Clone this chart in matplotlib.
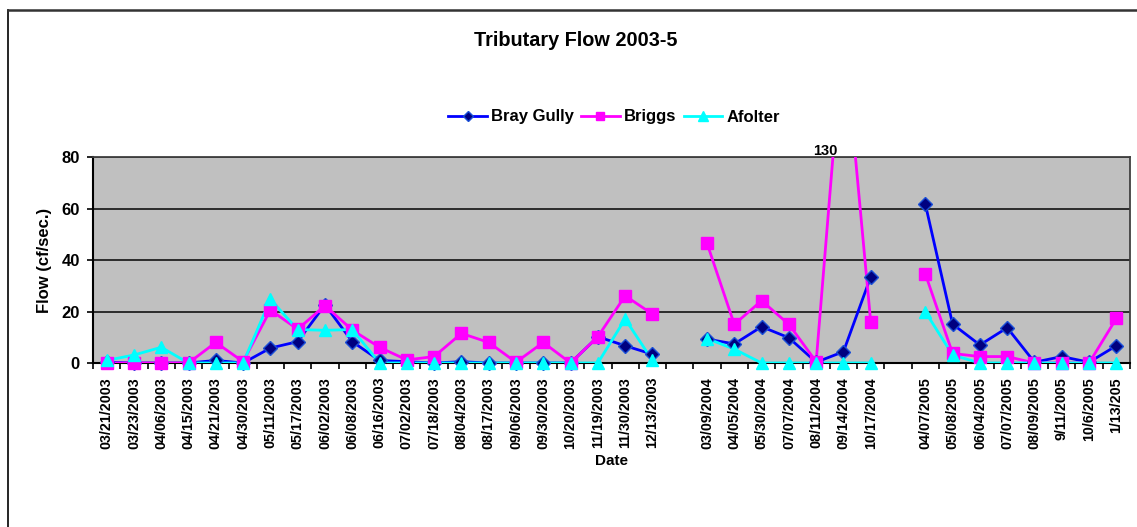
import numpy as np
import matplotlib
matplotlib.use("Agg")
import matplotlib.pyplot as plt
from matplotlib.lines import Line2D

plt.rcParams['font.family'] = ['Liberation Sans', 'DejaVu Sans']
plt.rcParams['font.weight'] = 'bold'

# ---- data ----
dates_2003 = ['03/21/2003', '03/23/2003', '04/06/2003', '04/15/2003', '04/21/2003',
              '04/30/2003', '05/11/2003', '05/17/2003', '06/02/2003', '06/08/2003',
              '06/16/2003', '07/02/2003', '07/18/2003', '08/04/2003', '08/17/2003',
              '09/06/2003', '09/30/2003', '10/20/2003', '11/19/2003', '11/30/2003',
              '12/13/2003']
dates_2004 = ['03/09/2004', '04/05/2004', '05/30/2004', '07/07/2004', '08/11/2004',
              '09/14/2004', '10/17/2004']
dates_2005 = ['04/07/2005', '05/08/2005', '06/04/2005', '07/07/2005', '08/09/2005',
              '9/11/2005', '10/6/2005', '1/13/205']

bray_2003 = [0.3, 0, 0, 0, 1.0, 0, 5.8, 8.3, 22.6, 8.3, 1.0, 0.5, 0, 0.5, 0, 0, 0, 0, 10.2, 6.7, 3.4]
bray_2004 = [9.3, 7.4, 14.1, 9.8, 0.3, 4.4, 33.5]
bray_2005 = [61.7, 15.1, 7.0, 13.7, 0.3, 2.5, 0.3, 6.7]

briggs_2003 = [0, 0, 0, 0, 8.0, 0.5, 20.6, 13.1, 22.3, 12.8, 6.1, 1.2, 2.5, 11.5, 8.0, 0.3, 8.0, 0, 10.2, 26.1, 19.0]
briggs_2004 = [46.5, 15.0, 24.2, 15.0, 0.5, 130, 15.8]
briggs_2005 = [34.6, 3.7, 2.5, 2.5, 0, 0, 0, 17.3]

afolter_2003 = [1.0, 3.1, 6.1, 0, 0, 0, 24.7, 13.0, 12.7, 13.0, 0, 0, 0, 0, 0, 0, 0, 0, 0, 17.1, 1.0]
afolter_2004 = [9.5, 5.4, 0, 0, 0, 0, 0]
afolter_2005 = [19.9, 3.1, 0, 0, 0, 0, 0, 0]

spike_label = '130'
y_ticks = [0, 20, 40, 60, 80]

# categories with empty slots between years
gap = [np.nan]
categories = dates_2003 + [''] + dates_2004 + [''] + dates_2005
bray = np.array(bray_2003 + gap + bray_2004 + gap + bray_2005, dtype=float)
briggs = np.array(briggs_2003 + gap + briggs_2004 + gap + briggs_2005, dtype=float)
afolter = np.array(afolter_2003 + gap + afolter_2004 + gap + afolter_2005, dtype=float)
x = np.arange(len(categories))

W, H = 1137, 527
fig = plt.figure(figsize=(W / 100, H / 100), dpi=100)
ax = fig.add_axes([93 / W, 1 - 363 / H, (1130 - 93) / W, (363 - 157) / H])
ax.set_facecolor('#C0C0C0')
ymax = 80
ax.set_ylim(0, ymax)
ax.set_xlim(-0.5, len(categories) - 0.5)

# gridlines
ax.set_yticks(y_ticks)
ax.yaxis.grid(True, color='#202020', linewidth=1.3)
ax.set_axisbelow(True)

series = [
    ('Bray Gully', bray, '#0000FF', 'D', '#000080', '#1A4FD8', 7.2, 5.5),
    ('Briggs', briggs, '#FF00FF', 's', '#FF00FF', '#FF00FF', 8.2, 6.2),
    ('Afolter', afolter, '#00FFFF', '^', '#00FFFF', '#00FFFF', 9.0, 7.0),
]
handles = []
for name, vals, lc, mk, mfc, mec, ms, lms in series:
    ax.plot(x, vals, color=lc, linewidth=2.0, zorder=3, clip_on=True)
    mvals = np.where(vals > ymax, np.nan, vals)
    ax.plot(x, mvals, linestyle='none', marker=mk, markersize=ms,
            markerfacecolor=mfc, markeredgecolor=mec, markeredgewidth=1.0,
            zorder=4, clip_on=False)
    handles.append(Line2D([], [], color=lc, linewidth=2.0, marker=mk,
                          markersize=lms, markerfacecolor=mfc,
                          markeredgecolor=mec, label=name))

# label for the off-scale value
i_spike = int(np.nanargmax(briggs))
ax.annotate(spike_label, xy=(x[i_spike], ymax), xytext=(-4.5, -0.5),
            textcoords='offset points', ha='right', va='bottom',
            fontsize=10.5, fontweight='bold', annotation_clip=False)

# x axis: labels at centres, ticks at boundaries
ax.set_xticks(x)
ax.set_xticklabels(categories, rotation=90, fontsize=10.3, fontweight='bold')
ax.tick_params(axis='x', which='major', length=0, pad=10)
ax.set_xticks(np.arange(-0.5, len(categories), 1.0), minor=True)
ax.tick_params(axis='x', which='minor', length=4, width=1.2, color='black', direction='out')

ax.tick_params(axis='y', which='major', length=4.5, width=1.2, pad=5, labelsize=12)
for lab in ax.get_yticklabels():
    lab.set_fontweight('bold')

for side in ['left', 'bottom']:
    ax.spines[side].set_color('black')
    ax.spines[side].set_linewidth(1.5)
for side in ['top', 'right']:
    ax.spines[side].set_color('#404040')
    ax.spines[side].set_linewidth(1.3)

ax.set_xlabel('Date', fontsize=11, fontweight='bold', va='center')
ax.xaxis.set_label_coords(0.5, (363 - 461) / 206)
ax.set_ylabel('Flow (cf/sec.)', fontsize=12, fontweight='bold', va='center')
ax.yaxis.set_label_coords((45 - 93) / 1037, 0.5)

fig.text(576 / W, 1 - 40 / H, 'Tributary Flow 2003-5', ha='center', va='center',
         fontsize=14.3, fontweight='bold')

fig.legend(handles=handles, loc='center', bbox_to_anchor=(614 / W, 1 - 117 / H),
           ncol=3, frameon=False, fontsize=12, handlelength=2.3,
           handletextpad=0.25, columnspacing=0.45)

# outer chart-area frame (left and top edges visible)
fig.add_artist(Line2D([7.5 / W, 7.5 / W], [0, 1 - 10 / H], transform=fig.transFigure,
                      color='black', linewidth=1.2))
fig.add_artist(Line2D([7.5 / W, 1], [1 - 10 / H, 1 - 10 / H], transform=fig.transFigure,
                      color='#333333', linewidth=1.8))

fig.savefig('out.png', dpi=100, facecolor='white')
